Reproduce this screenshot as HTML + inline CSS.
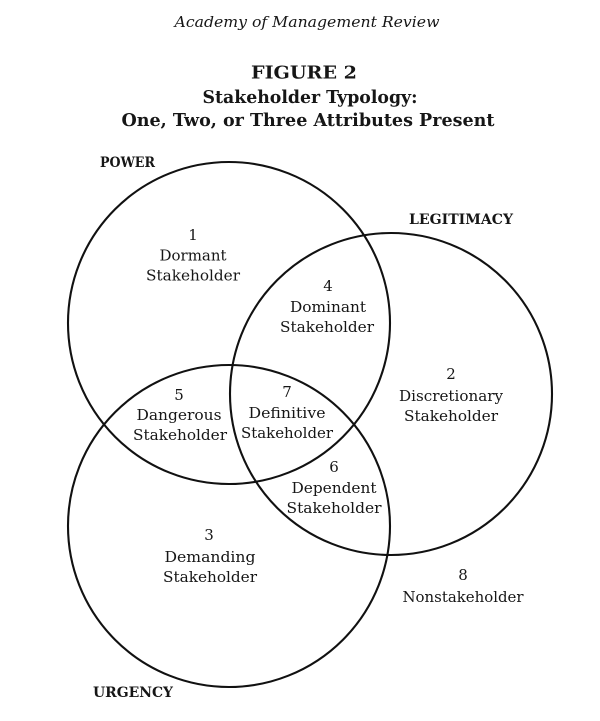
<!DOCTYPE html>
<html>
<head>
<meta charset="utf-8">
<style>
  html, body { margin: 0; padding: 0; background: #fff; }
  body { width: 600px; height: 721px; overflow: hidden; }
  svg { display: block; }
  text { font-family: "DejaVu Serif", "Liberation Serif", serif; fill: #161616; }
  .b { font-weight: bold; }
  .n { font-size: 15px; }
</style>
</head>
<body>
<svg width="600" height="721" viewBox="0 0 600 721" xmlns="http://www.w3.org/2000/svg">
  <rect width="600" height="721" fill="#fff"/>

  <!-- Header -->
  <text x="307" y="27" text-anchor="middle" font-style="italic" font-size="15" textLength="265" lengthAdjust="spacingAndGlyphs">Academy of Management Review</text>
  <text x="304" y="78.5" text-anchor="middle" class="b" font-size="18" textLength="106" lengthAdjust="spacingAndGlyphs">FIGURE 2</text>
  <text x="310" y="103" text-anchor="middle" class="b" font-size="18" textLength="215" lengthAdjust="spacingAndGlyphs">Stakeholder Typology:</text>
  <text x="308" y="126" text-anchor="middle" class="b" font-size="18" textLength="373" lengthAdjust="spacingAndGlyphs">One, Two, or Three Attributes Present</text>

  <!-- Circles -->
  <g fill="none" stroke="#111" stroke-width="2.1">
    <circle cx="229" cy="323" r="161"/>
    <circle cx="391" cy="394" r="161"/>
    <circle cx="229" cy="526" r="161"/>
  </g>

  <!-- Attribute labels -->
  <text x="100" y="167" class="b" font-size="14" textLength="55" lengthAdjust="spacingAndGlyphs">POWER</text>
  <text x="409" y="224" class="b" font-size="14" textLength="104" lengthAdjust="spacingAndGlyphs">LEGITIMACY</text>
  <text x="93" y="697" class="b" font-size="14" textLength="80" lengthAdjust="spacingAndGlyphs">URGENCY</text>

  <!-- 1 -->
  <text x="193" y="240" text-anchor="middle" class="n">1</text>
  <text x="193" y="260.5" text-anchor="middle" class="n" textLength="67" lengthAdjust="spacingAndGlyphs">Dormant</text>
  <text x="193" y="280.5" text-anchor="middle" class="n" textLength="94" lengthAdjust="spacingAndGlyphs">Stakeholder</text>

  <!-- 4 -->
  <text x="328" y="291" text-anchor="middle" class="n">4</text>
  <text x="328" y="312" text-anchor="middle" class="n" textLength="76" lengthAdjust="spacingAndGlyphs">Dominant</text>
  <text x="327" y="332" text-anchor="middle" class="n" textLength="94" lengthAdjust="spacingAndGlyphs">Stakeholder</text>

  <!-- 2 -->
  <text x="451" y="379" text-anchor="middle" class="n">2</text>
  <text x="451" y="401" text-anchor="middle" class="n" textLength="104" lengthAdjust="spacingAndGlyphs">Discretionary</text>
  <text x="451" y="421" text-anchor="middle" class="n" textLength="94" lengthAdjust="spacingAndGlyphs">Stakeholder</text>

  <!-- 5 -->
  <text x="179" y="400" text-anchor="middle" class="n">5</text>
  <text x="179" y="420" text-anchor="middle" class="n" textLength="85" lengthAdjust="spacingAndGlyphs">Dangerous</text>
  <text x="180" y="440" text-anchor="middle" class="n" textLength="94" lengthAdjust="spacingAndGlyphs">Stakeholder</text>

  <!-- 7 -->
  <text x="287" y="397" text-anchor="middle" class="n">7</text>
  <text x="287" y="418" text-anchor="middle" class="n" textLength="77" lengthAdjust="spacingAndGlyphs">Definitive</text>
  <text x="287" y="438" text-anchor="middle" class="n" textLength="92" lengthAdjust="spacingAndGlyphs">Stakeholder</text>

  <!-- 6 -->
  <text x="334" y="472" text-anchor="middle" class="n">6</text>
  <text x="334" y="493" text-anchor="middle" class="n" textLength="85" lengthAdjust="spacingAndGlyphs">Dependent</text>
  <text x="334" y="513" text-anchor="middle" class="n" textLength="95" lengthAdjust="spacingAndGlyphs">Stakeholder</text>

  <!-- 3 -->
  <text x="209" y="540" text-anchor="middle" class="n">3</text>
  <text x="210" y="562" text-anchor="middle" class="n" textLength="91" lengthAdjust="spacingAndGlyphs">Demanding</text>
  <text x="210" y="582" text-anchor="middle" class="n" textLength="94" lengthAdjust="spacingAndGlyphs">Stakeholder</text>

  <!-- 8 -->
  <text x="463" y="580" text-anchor="middle" class="n">8</text>
  <text x="463" y="602" text-anchor="middle" class="n" textLength="121" lengthAdjust="spacingAndGlyphs">Nonstakeholder</text>
</svg>
</body>
</html>
